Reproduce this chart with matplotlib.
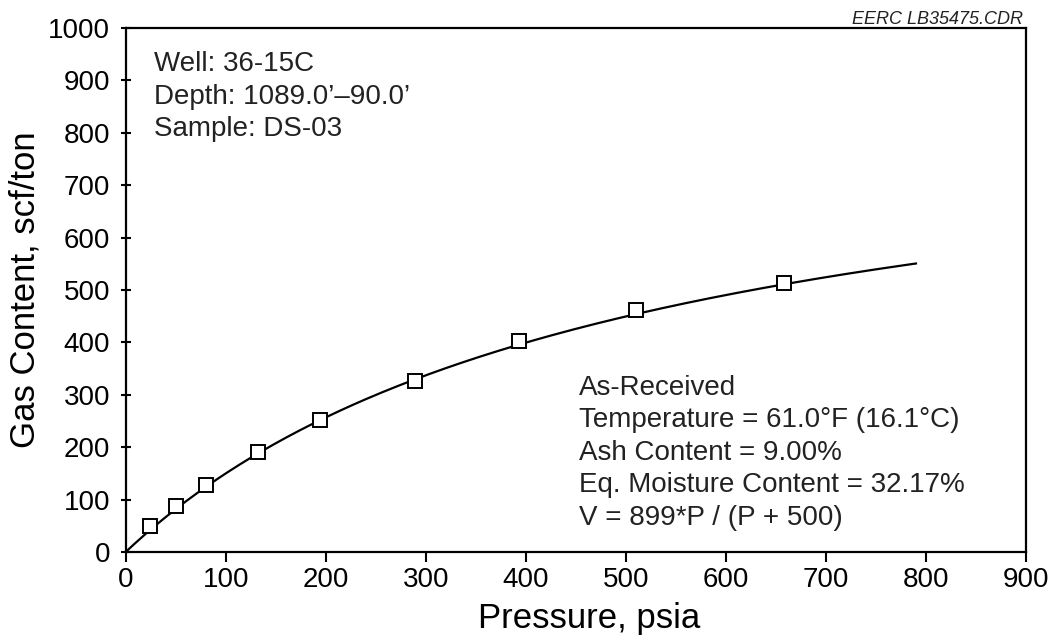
import numpy as np
import matplotlib
matplotlib.use("Agg")
import matplotlib.pyplot as plt

# Measured isotherm points
pressure = [24, 50, 80, 132, 194, 289, 393, 510, 658]
gas_content = [50, 87, 128, 191, 251, 327, 402, 462, 513]

# Langmuir fit V = VL*P / (P + PL)
langmuir_vl = 899
langmuir_pl = 500
fit_p_max = 790

x_ticks = list(range(0, 1000, 100))
y_ticks = list(range(0, 1100, 100))

sample_lines = ["Well: 36-15C", "Depth: 1089.0\u2019\u201390.0\u2019", "Sample: DS-03"]
condition_lines = [
    "As-Received",
    "Temperature = 61.0\u00b0F (16.1\u00b0C)",
    "Ash Content = 9.00%",
    "Eq. Moisture Content = 32.17%",
    "V = 899*P / (P + 500)",
]


def isotherm_plot(out_file):
    plt.rcParams['font.family'] = ['Liberation Sans', 'DejaVu Sans']

    fig = plt.figure(figsize=(10.55, 6.42), dpi=100)
    ax = fig.add_axes([0.1191, 0.1402, 0.8534, 0.8162])

    p_fit = np.linspace(0, fit_p_max, 300)
    v_fit = langmuir_vl * p_fit / (p_fit + langmuir_pl)
    ax.plot(p_fit, v_fit, color='black', linewidth=1.6)
    ax.plot(pressure, gas_content, linestyle='none', marker='s', markersize=10,
            markerfacecolor='white', markeredgecolor='black', markeredgewidth=1.4)

    ax.set_xlim(0, 900)
    ax.set_ylim(0, 1000)
    ax.set_xticks(x_ticks)
    ax.set_yticks(y_ticks)
    ax.tick_params(axis='x', direction='out', length=7, width=1.5, pad=3.5, labelsize=20)
    ax.tick_params(axis='y', direction='inout', length=7.5, width=1.5, pad=7.5, labelsize=20)
    for spine in ax.spines.values():
        spine.set_linewidth(1.6)

    ax.set_xlabel("Pressure, psia", fontsize=25)
    ax.set_ylabel("Gas Content, scf/ton", fontsize=25)
    ax.xaxis.set_label_coords(0.515, -0.095)
    ax.yaxis.set_label_coords(-0.093, 0.5)

    # Sample identification, top left
    for i, line in enumerate(sample_lines):
        ax.text(0.031, 0.917 - i * 0.0616, line, transform=ax.transAxes,
                fontsize=20, ha='left', va='baseline', color='#222222')

    # Test conditions and fit equation, bottom right
    for i, line in enumerate(condition_lines):
        ax.text(0.503, 0.300 - i * 0.062, line, transform=ax.transAxes,
                fontsize=20, ha='left', va='baseline', color='#222222')

    ax.text(0.9967, 1.008, "EERC LB35475.CDR", transform=ax.transAxes,
            fontsize=13, style='italic', ha='right', va='baseline', color='#222222')

    plt.savefig(out_file, dpi=100)
    plt.close(fig)


def main():
    isotherm_plot("out.png")


if __name__ == "__main__":
    main()
